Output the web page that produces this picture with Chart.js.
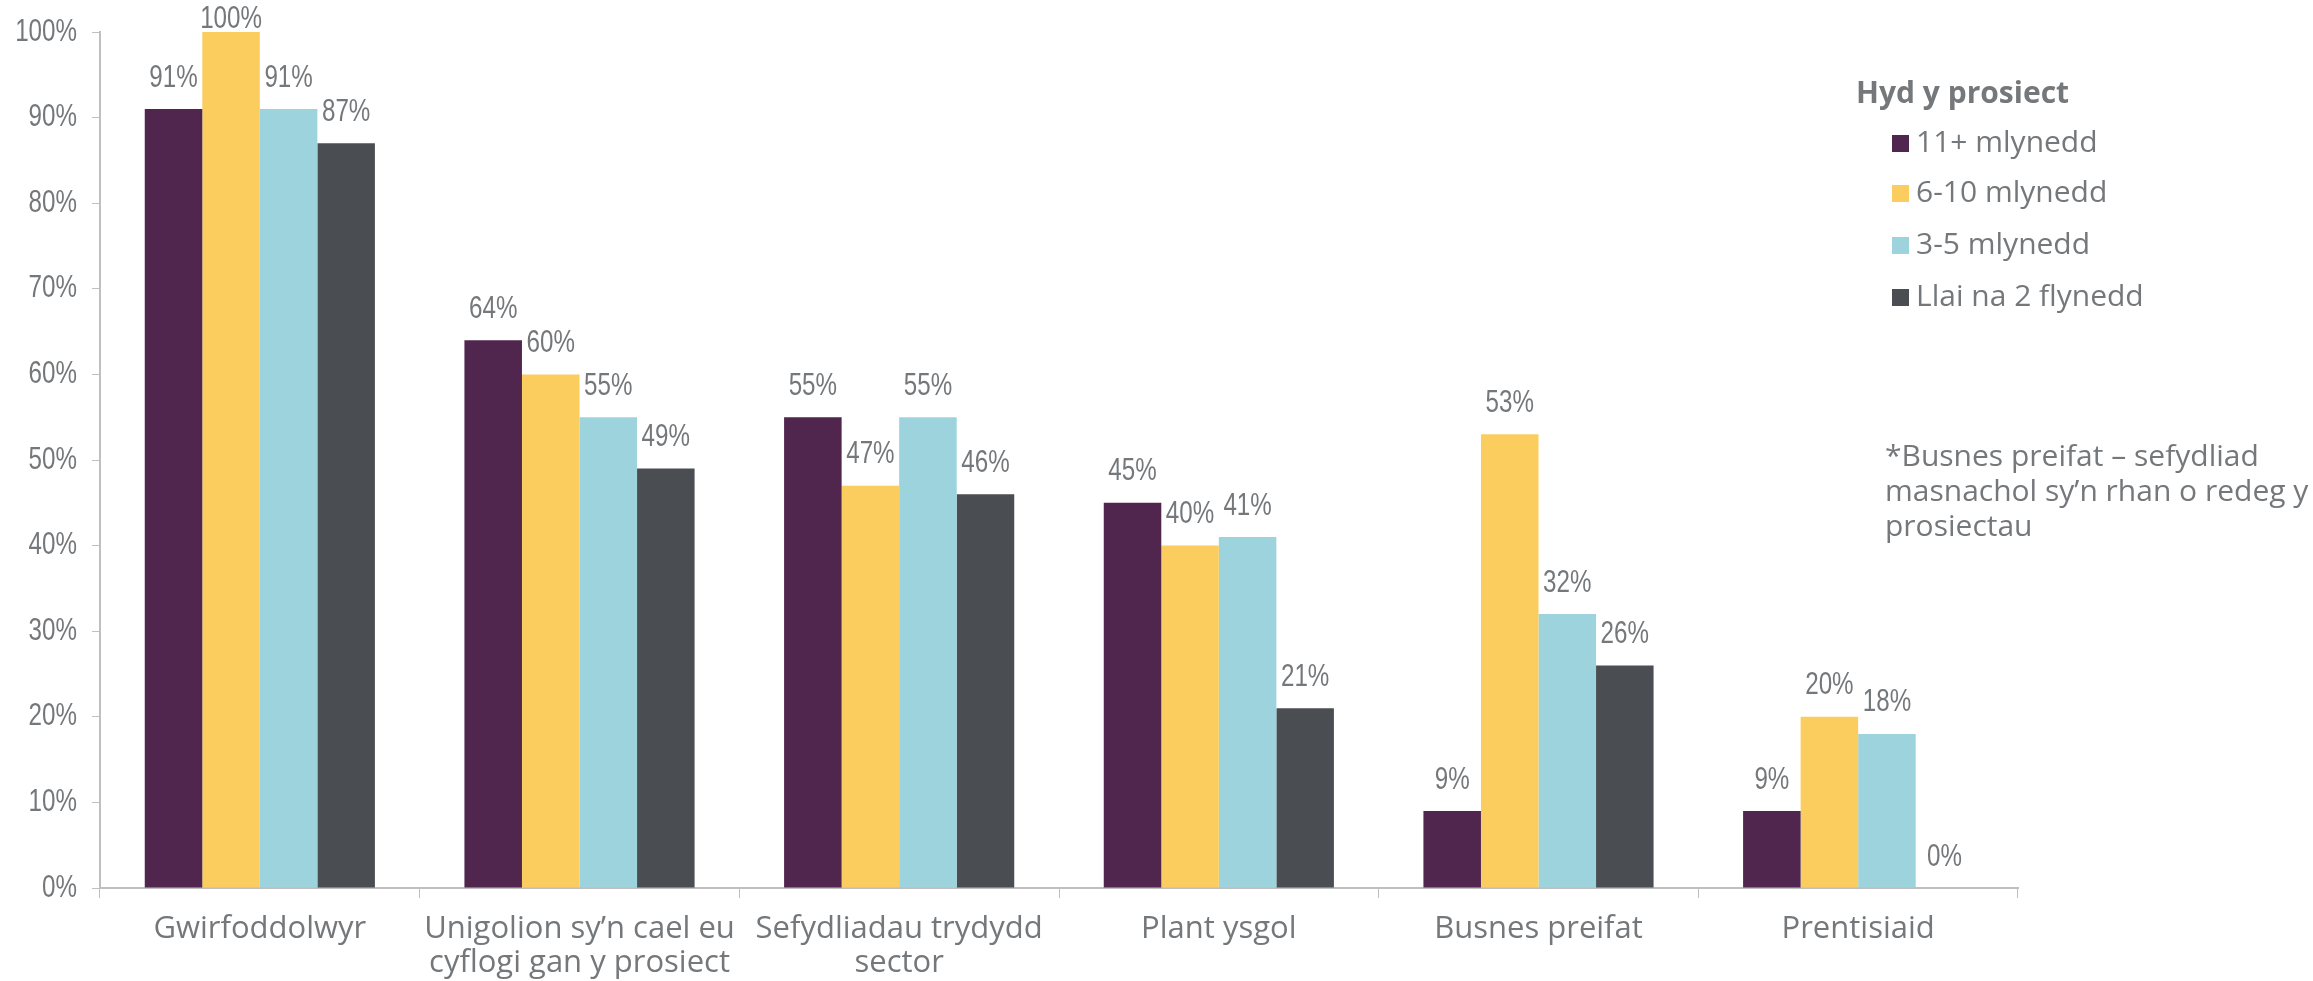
<!DOCTYPE html>
<html>
<head>
<meta charset="utf-8">
<script src="https://cdn.jsdelivr.net/npm/chart.js@4/dist/chart.umd.min.js"></script>
<style>
  html,body{margin:0;padding:0;background:#fff;}
  #wrap{width:2313px;height:981px;position:relative;}
</style>
</head>
<body>
<div id="wrap"><canvas id="c" width="2313" height="981"></canvas></div>
<script>
const categories = [
  "Gwirfoddolwyr",
  ["Unigolion sy\u2019n cael eu", "cyflogi gan y prosiect"],
  ["Sefydliadau trydydd", "sector"],
  "Plant ysgol",
  "Busnes preifat",
  "Prentisiaid"
];
const seriesNames = ["11+ mlynedd", "6-10 mlynedd", "3-5 mlynedd", "Llai na 2 flynedd"];
const s11plus  = [91, 64, 55, 45, 9, 9];
const s6to10   = [100, 60, 47, 40, 53, 20];
const s3to5    = [91, 55, 55, 41, 32, 18];
const sUnder2  = [87, 49, 46, 21, 26, 0];
const yTicks = [0, 10, 20, 30, 40, 50, 60, 70, 80, 90, 100];
const legendTitle = "Hyd y prosiect";
const noteLines = ["*Busnes preifat \u2013 sefydliad", "masnachol sy\u2019n rhan o redeg y", "prosiectau"];

const colors = ["#50264F", "#FBCD5F", "#9CD3DC", "#4A4D52"];
const textColor = "#75787B";
const axisColor = "#BFBFBF";
const numFont = "'Liberation Sans', sans-serif";
const txtFont = "'Open Sans', 'DejaVu Sans', sans-serif";
const condense = 0.78;

const allSeries = [s11plus, s6to10, s3to5, sUnder2];

function narrowText(ctx, text, x, y, align) {
  ctx.save();
  ctx.translate(x, y);
  ctx.scale(condense, 1);
  ctx.textAlign = align;
  ctx.fillText(text, 0, 0);
  ctx.restore();
}

const labelPlugin = {
  id: 'customLabels',
  afterDraw(chart) {
    const ctx = chart.ctx;
    ctx.save();
    ctx.fillStyle = textColor;
    ctx.font = "31px " + numFont;
    ctx.textBaseline = 'middle';
    const ys = chart.scales.y;
    yTicks.forEach(v => {
      narrowText(ctx, v + '%', 77, ys.getPixelForValue(v), 'right');
    });
    chart.data.datasets.forEach((ds, i) => {
      const meta = chart.getDatasetMeta(i);
      meta.data.forEach((el, j) => {
        const y = Math.max(el.y - 31, 19);
        narrowText(ctx, ds.data[j] + '%', el.x, y, 'center');
      });
    });
    ctx.textAlign = 'left';
    ctx.font = "bold 30px " + txtFont;
    ctx.fillText(legendTitle, 1856, 94);
    ctx.font = "30px " + txtFont;
    const ly = [143, 193, 245, 297];
    seriesNames.forEach((n, i) => {
      ctx.fillStyle = colors[i];
      ctx.fillRect(1892, ly[i] - 8, 17, 17);
      ctx.fillStyle = textColor;
      ctx.fillText(n, 1916, ly[i]);
    });
    const ny = [457, 492, 527];
    noteLines.forEach((l, i) => ctx.fillText(l, 1885, ny[i]));
    ctx.restore();
  }
};

new Chart(document.getElementById('c'), {
  type: 'bar',
  data: {
    labels: categories,
    datasets: allSeries.map((d, i) => ({
      label: seriesNames[i],
      data: d,
      backgroundColor: colors[i],
      borderWidth: 0,
      categoryPercentage: 0.72,
      barPercentage: 1.0
    }))
  },
  options: {
    responsive: false,
    animation: false,
    layout: { padding: { left: 0, right: 295, top: 32, bottom: 0 } },
    plugins: { legend: { display: false }, tooltip: { enabled: false } },
    scales: {
      x: {
        offset: true,
        grid: { offset: true, drawOnChartArea: false, color: axisColor, tickLength: 10, tickColor: axisColor },
        border: { color: axisColor, width: 2 },
        ticks: { color: textColor, font: { family: txtFont, size: 31, lineHeight: 1.1 }, padding: 14, maxRotation: 0, autoSkip: false },
        afterFit(scale) { scale.height = 93; }
      },
      y: {
        min: 0, max: 100,
        afterBuildTicks(scale) { scale.ticks = yTicks.map(v => ({ value: v })); },
        grid: { drawOnChartArea: false, color: axisColor, tickLength: 8, tickColor: axisColor },
        border: { color: axisColor, width: 2 },
        ticks: { color: 'rgba(0,0,0,0)', font: { family: numFont, size: 28 }, padding: 14, callback: v => v + '%' },
        afterFit(scale) { scale.width = 100; }
      }
    }
  },
  plugins: [labelPlugin]
});
</script>
</body>
</html>
